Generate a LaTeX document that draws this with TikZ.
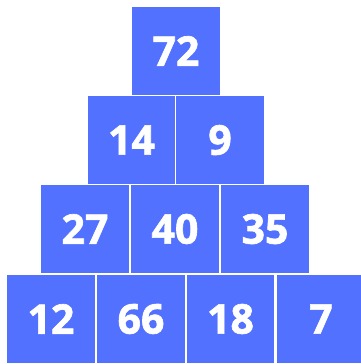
\documentclass[tikz,border=0pt]{standalone}
\usepackage{fontspec}
\setmainfont{Open Sans}
\newfontfamily\heavyfont{Open Sans Bold}[FakeBold=1.6]
\definecolor{boxblue}{HTML}{5271FF}
\begin{document}
\begin{tikzpicture}[x=1pt,y=-1pt,
  cell/.style={rectangle,fill=boxblue,draw=white,line width=1.2pt,minimum width=89pt,minimum height=89pt,inner sep=0pt,text=white,font=\heavyfont\fontsize{41}{41}\selectfont}]
\useasboundingbox (0,0) rectangle (361,364);
\clip (0,0) rectangle (361,364);
\fill[white] (0,0) rectangle (361,364);
\node[cell] (a) at (176,51) {72};
\node[cell] (b1) at (131.5,140) {14};
\node[cell] (b2) at (220,140) {9};
\node[cell] (c1) at (85,229) {27};
\node[cell] (c2) at (175,229) {40};
\node[cell] (c3) at (265,229) {35};
\node[cell] (d1) at (51,319) {12};
\node[cell] (d2) at (141,319) {66};
\node[cell] (d3) at (230.5,319) {18};
\node[cell] (d4) at (321,319) {7};
\end{tikzpicture}
\end{document}
